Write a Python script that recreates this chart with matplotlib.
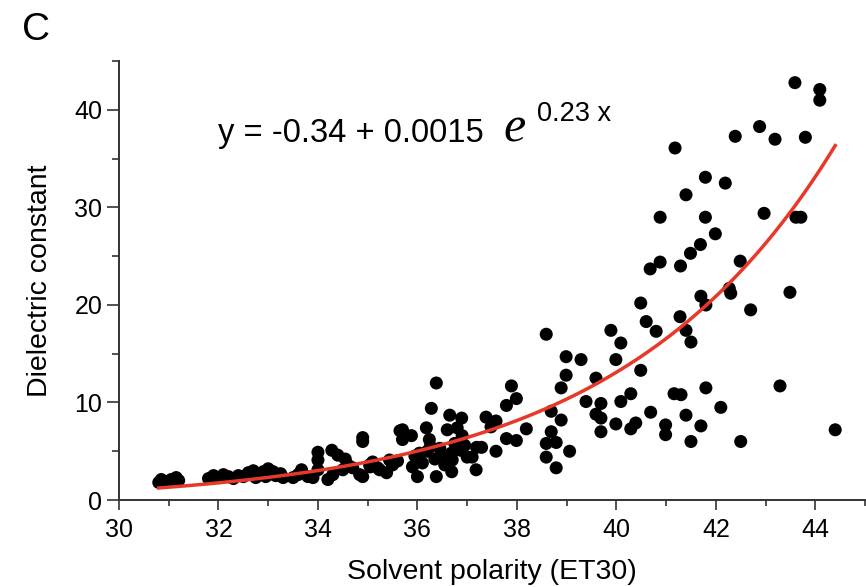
import matplotlib
matplotlib.use('Agg')
import matplotlib.pyplot as plt
import numpy as np

plt.rcParams['font.family'] = ['Liberation Sans', 'DejaVu Sans']

# solvent polarity (ET30) and dielectric constant
et30 = [30.8, 30.85, 30.95, 31.05, 31.15, 31.2,
        31.8, 31.9, 32.0, 32.1, 32.2, 32.3, 32.4,
        32.5, 32.6, 32.7, 32.75, 32.8, 32.9, 32.95, 33.0, 33.1, 33.15, 33.25, 33.3,
        33.5, 33.6, 33.67, 33.8, 33.9, 34.0, 34.0, 34.0,
        34.2, 34.28, 34.3, 34.4, 34.5, 34.55, 34.6, 34.7, 34.84, 34.9, 34.9, 34.9,
        35.04, 35.1, 35.2, 35.05, 35.24, 35.38, 35.44, 35.5, 35.6, 35.65, 35.7, 35.7,
        35.88, 35.9, 35.95, 36.0, 36.04, 36.1, 36.18, 36.2, 36.24, 36.26, 36.28, 36.38,
        36.38, 36.35, 36.45, 36.5, 36.55, 36.6, 36.65, 36.68, 36.69, 36.7, 36.75, 36.8,
        36.87, 36.89, 36.9, 37.0, 36.95, 37.1, 37.18, 37.19, 37.29, 37.38, 37.48, 37.58,
        37.58, 37.79, 37.79, 37.89, 37.99, 37.99, 38.19,
        38.59, 38.69, 38.89, 38.69, 38.59, 38.79, 38.59, 38.79, 39.06, 38.89, 38.99,
        38.99, 39.29, 39.59, 39.39, 39.69, 39.59, 39.69, 39.69, 39.89, 40.09, 39.99,
        40.49, 40.09, 40.29, 39.99, 40.29, 40.39, 40.69, 40.99, 40.99, 41.16, 41.3,
        41.8, 42.1, 41.4, 41.7, 41.5, 42.5, 40.49, 40.6, 40.8, 41.28, 41.4, 41.5,
        41.7, 41.8, 42.27, 42.3, 42.7, 43.49, 43.29, 44.4,
        40.68, 40.88, 41.29, 42.49, 41.49, 41.69, 41.99, 40.88, 41.79, 42.97, 43.61,
        43.71, 41.4, 41.79, 42.19, 41.18, 42.39, 42.88, 43.19, 43.8, 43.59, 44.09, 44.09]
dielectric = [1.8, 2.1, 1.9, 2.1, 2.3, 2.0,
              2.2, 2.5, 2.3, 2.6, 2.4, 2.2, 2.5,
              2.4, 2.8, 3.0, 2.3, 2.6, 2.9, 2.4, 3.2, 2.9, 2.5, 2.7, 2.3,
              2.3, 2.6, 3.1, 2.4, 2.3, 3.1, 4.1, 4.9,
              2.1, 5.1, 2.6, 4.6, 3.1, 4.2, 3.6, 3.3, 2.6, 2.4, 6.4, 6.0,
              3.6, 3.9, 3.3, 3.4, 3.1, 2.8, 4.1, 3.6, 4.0, 7.1, 6.2, 7.2,
              6.6, 3.4, 4.5, 2.4, 4.8, 3.8, 7.4, 5.0, 6.2, 5.5, 9.4, 12.0,
              2.4, 4.2, 5.3, 4.4, 3.6, 7.2, 8.7, 4.8, 2.9, 4.1, 5.8, 7.4,
              5.1, 8.4, 6.6, 4.4, 5.6, 4.4, 3.1, 5.4, 5.4, 8.5, 7.5, 8.1,
              5.0, 9.7, 6.3, 11.7, 10.4, 6.1, 7.3,
              17.0, 9.1, 8.2, 7.0, 5.8, 5.9, 4.4, 3.3, 5.0, 11.5, 12.8,
              14.7, 14.4, 12.5, 10.1, 9.9, 8.8, 8.4, 7.0, 17.4, 16.1, 14.4,
              13.3, 10.1, 10.9, 7.8, 7.3, 7.9, 9.0, 7.7, 6.7, 10.9, 10.8,
              11.5, 9.5, 8.7, 7.6, 6.0, 6.0, 20.2, 18.3, 17.3, 18.8, 17.4, 16.2,
              20.9, 20.0, 21.7, 21.2, 19.5, 21.3, 11.7, 7.2,
              23.7, 24.4, 24.0, 24.5, 25.3, 26.2, 27.3, 29.0, 29.0, 29.4, 29.0,
              29.0, 31.3, 33.1, 32.5, 36.1, 37.3, 38.3, 37.0, 37.2, 42.8, 42.1, 41.0]

# exponential fit y = a + b*exp(c*x), drawn over the data range
fit_a, fit_b, fit_c = -0.44, 0.00153, 0.2272
fit_range = (30.8, 44.4)

fig = plt.figure(figsize=(8.66, 5.87), dpi=100)
ax = fig.add_axes([0.1374, 0.1482, 0.8615, 0.7475])

ax.scatter(et30, dielectric, s=88, color='black', edgecolors='none', zorder=2)

xf = np.linspace(fit_range[0], fit_range[1], 200)
ax.plot(xf, fit_a + fit_b * np.exp(fit_c * xf), color='#e8382a', lw=2.5, zorder=3)

ax.set_xlim(30, 45)
ax.set_ylim(0, 45)
ax.set_xticks(np.arange(30, 45, 2))
ax.set_xticks(np.arange(31, 46, 2), minor=True)
ax.set_yticks([0, 10, 20, 30, 40])
ax.set_yticks([5, 15, 25, 35, 45], minor=True)

for s in ['top', 'right']:
    ax.spines[s].set_visible(False)
for s in ['left', 'bottom']:
    ax.spines[s].set_color('#333333')
    ax.spines[s].set_linewidth(1.4)

ax.tick_params(axis='x', which='major', length=7, width=1.2, color='#333333',
               labelsize=18, pad=6)
ax.tick_params(axis='x', which='minor', length=4, width=1.2, color='#333333')
ax.tick_params(axis='y', which='major', length=9, width=1.2, color='#333333',
               labelsize=18, pad=3)
ax.tick_params(axis='y', which='minor', length=5, width=1.2, color='#333333')

ax.set_xlabel('Solvent polarity (ET30)', fontsize=20.5, labelpad=12)
ax.set_ylabel('Dielectric constant', fontsize=20.5, labelpad=15)

# panel letter and equation
fig.text(22 / 866, 1 - 40 / 587, 'C', fontsize=28, va='baseline')
fig.text(218 / 866, 1 - 142 / 587, 'y = -0.34 + 0.0015', fontsize=23.5, va='baseline')
fig.text(503 / 866, 1 - 142 / 587, 'e', fontsize=36, style='italic',
         family=['Liberation Serif', 'DejaVu Serif'], va='baseline')
fig.text(537 / 866, 1 - 121 / 587, '0.23 x', fontsize=19.5, va='baseline')

fig.savefig('out.png', dpi=100)
